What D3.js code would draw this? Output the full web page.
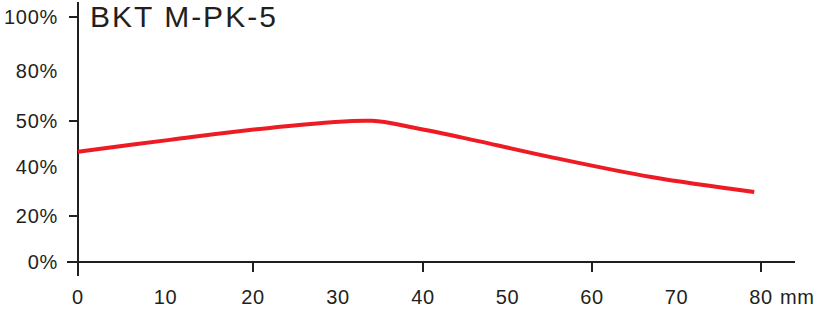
<!DOCTYPE html>
<html>
<head>
<meta charset="utf-8">
<script src="https://cdn.jsdelivr.net/npm/d3@7"></script>
<style>
  body { margin: 0; background: #fff; }
  svg text { font-family: "Liberation Sans", Arial, Helvetica, sans-serif; fill: #231f20; }
</style>
</head>
<body>
<div id="chart"></div>
<script>
// values
const title = "BKT M-PK-5";
const xValues = [0, 10.5, 22, 34, 38.5, 44.4, 55, 67, 79.2];
const yValues = [43.3, 45.9, 48.5, 50.1, 48.7, 46.5, 42.2, 35.9, 29.8];
const xTicks = [0, 10, 20, 30, 40, 50, 60, 70, 80];
const xTickMarks = [0, 20, 40, 60, 80];
const yTicks = [0, 20, 40, 50, 80, 100];
const yTickMarks = [0, 20, 50, 100];

const width = 831, height = 309;
const ink = "#231f20";

const svg = d3.select("#chart").append("svg")
    .attr("width", width)
    .attr("height", height);

// the printed axes are slightly uneven, so pin each marked value where it sits
const x = d3.scaleLinear()
    .domain([0, 20, 40, 60, 80])
    .range([78, 253, 423, 592, 761]);

const y = d3.scaleLinear()
    .domain(yTicks)
    .range([262, 216, 167, 121, 71, 17]);

// axis lines
svg.append("line")
    .attr("x1", x(0)).attr("x2", x(0))
    .attr("y1", 2).attr("y2", 276)
    .attr("stroke", ink).attr("stroke-width", 2);

svg.append("line")
    .attr("x1", 67).attr("x2", 795)
    .attr("y1", y(0)).attr("y2", y(0))
    .attr("stroke", ink).attr("stroke-width", 2);

// tick marks
svg.selectAll(".ytick")
    .data(yTickMarks.filter(d => d > 0))
    .enter().append("line")
    .attr("x1", x(0) - 9).attr("x2", x(0))
    .attr("y1", d => y(d)).attr("y2", d => y(d))
    .attr("stroke", ink).attr("stroke-width", 2);

svg.selectAll(".xtick")
    .data(xTickMarks.filter(d => d > 0))
    .enter().append("line")
    .attr("x1", d => x(d)).attr("x2", d => x(d))
    .attr("y1", y(0)).attr("y2", y(0) + 10)
    .attr("stroke", ink).attr("stroke-width", 2);

// tick labels
svg.selectAll(".ylabel")
    .data(yTicks)
    .enter().append("text")
    .attr("x", 58)
    .attr("y", d => y(d) + 7)
    .attr("text-anchor", "end")
    .style("font-size", "20px")
    .style("letter-spacing", "0.7px")
    .text(d => d + "%");

svg.selectAll(".xlabel")
    .data(xTicks)
    .enter().append("text")
    .attr("x", d => x(d))
    .attr("y", 304)
    .attr("text-anchor", "middle")
    .style("font-size", "20px")
    .style("letter-spacing", "0.7px")
    .text(d => d);

svg.append("text")
    .attr("x", x(80) + 19)
    .attr("y", 304)
    .style("font-size", "20px")
    .style("letter-spacing", "0.7px")
    .text("mm");

// title
svg.append("text")
    .attr("x", 90)
    .attr("y", 27)
    .style("font-size", "30px")
    .style("letter-spacing", "2px")
    .text(title);

// curve
const line = d3.line()
    .x(d => x(d[0]))
    .y(d => y(d[1]))
    .curve(d3.curveCatmullRom.alpha(0.5));

svg.append("path")
    .datum(d3.zip(xValues, yValues))
    .attr("fill", "none")
    .attr("stroke", "#ed1c24")
    .attr("stroke-width", 4)
    .attr("d", line);
</script>
</body>
</html>
